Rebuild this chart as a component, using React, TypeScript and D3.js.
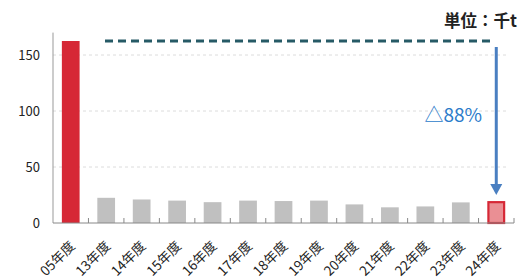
import React from "react";
import * as d3 from "d3";

const categories = ["05年度","13年度","14年度","15年度","16年度","17年度","18年度","19年度","20年度","21年度","22年度","23年度","24年度"];
const values = [162.5, 22.5, 21, 20, 18.6, 20, 19.6, 20, 16.6, 14, 14.8, 18.4, 19.5];
const yTicks = [0, 50, 100, 150];
const unitLabel = "単位：千t";
const changeLabel = "△88%";

const W = 530, H = 280;
const left = 53, right = 514, bottom = 223, top = 32.6;
const FONT = "'Noto Sans CJK JP', 'Noto Sans', sans-serif";

export default function App() {
  const x = d3.scaleBand<string>().domain(categories).range([left, right]).paddingInner(0.5).paddingOuter(0.25);
  const xb = d3.scaleBand<string>().domain(categories).range([left, right]);
  const y = d3.scaleLinear().domain([0, 170]).range([bottom, top]);
  const last = categories.length - 1;
  const lastCx = (x(categories[last]) as number) + x.bandwidth() / 2;
  const refY = y(values[0]);
  return (
    <svg width={W} height={H} style={{ position: "absolute", left: 0, top: 0, fontFamily: FONT }}>
      {yTicks.filter(t => t > 0).map(t => (
        <line key={t} x1={left} x2={506} y1={y(t)} y2={y(t)} stroke="#dcdcdc" strokeDasharray="3,3" strokeWidth={1} />
      ))}
      {values.map((v, i) => {
        const c = categories[i];
        const bx = x(c) as number;
        if (i === 0) return <rect key={c} x={bx} y={y(v)} width={x.bandwidth()} height={bottom - y(v)} fill="#d62836" />;
        if (i === last) return <rect key={c} x={bx + 1} y={y(v) + 1} width={x.bandwidth() - 2} height={bottom - y(v) - 1} fill="#ea8f94" stroke="#d62836" strokeWidth={2.2} />;
        return <rect key={c} x={bx} y={y(v)} width={x.bandwidth()} height={bottom - y(v)} fill="#c0c0c0" />;
      })}
      <line x1={left} x2={left} y1={top} y2={bottom} stroke="#999" strokeWidth={1} />
      <line x1={left} x2={right} y1={bottom} y2={bottom} stroke="#888" strokeWidth={1} />
      {categories.slice(1).map(c => (
        <line key={c} x1={xb(c) as number} x2={xb(c) as number} y1={bottom} y2={bottom - 5} stroke="#888" strokeWidth={1} />
      ))}
      <line x1={right} x2={right} y1={bottom} y2={bottom - 5} stroke="#888" strokeWidth={1} />
      {yTicks.map(t => (
        <text key={t} x={40} y={y(t)} dy="0.35em" textAnchor="end" fontSize={13} fill="#222">{t}</text>
      ))}
      {categories.map(c => {
        const cx = (xb(c) as number) + xb.bandwidth() / 2;
        return (
          <text key={c} transform={`translate(${cx + 5},${bottom + 24}) rotate(-45)`} textAnchor="end" fontSize={13.5} fill="#222">{c}</text>
        );
      })}
      <line x1={105} x2={491} y1={refY} y2={refY} stroke="#265a66" strokeWidth={3} strokeDasharray="8,5" />
      <line x1={lastCx} x2={lastCx} y1={47} y2={186} stroke="#4a7fc1" strokeWidth={3} />
      <path d={`M${lastCx - 6},184 L${lastCx + 6},184 L${lastCx},195 Z`} fill="#4a7fc1" />
      <text x={482} y={115} dy="0.35em" textAnchor="end" fontSize={19} fill="#2b7bca">{changeLabel}</text>
      <text x={517} y={21} dy="0.35em" textAnchor="end" fontSize={16.5} fontWeight="bold" fill="#222">{unitLabel}</text>
    </svg>
  );
}
